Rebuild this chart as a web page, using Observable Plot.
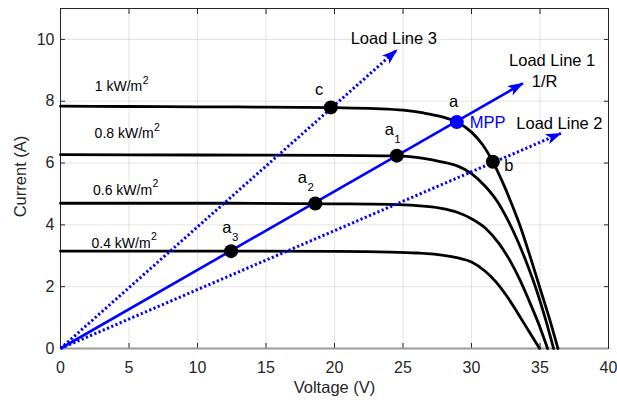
<!DOCTYPE html>
<html>
<head>
<meta charset="utf-8">
<script src="https://cdn.jsdelivr.net/npm/d3@7"></script>
<script src="https://cdn.jsdelivr.net/npm/@observablehq/plot@0.6"></script>
<style>
  body { margin: 0; background: #fff; }
  #chart svg { display: block; }
</style>
</head>
<body>
<div id="chart"></div>
<script>
// ---- Data ----
const xTicks = [0, 5, 10, 15, 20, 25, 30, 35, 40];
const yTicks = [0, 2, 4, 6, 8, 10];

const irradiance = ["1 kW/m", "0.8 kW/m", "0.6 kW/m", "0.4 kW/m"];
const irrLabelV = [2.5, 2.49, 2.37, 2.26];
const irrLabelI = [8.46, 6.94, 5.12, 3.41];

const v1000 = [0, 5, 10, 15, 20, 23, 25, 26.5, 27.8, 28.93, 30, 30.8, 31.56, 32.3, 33, 33.6, 34.3, 35, 35.7, 36.31];
const i1000 = [7.84, 7.83, 7.82, 7.81, 7.79, 7.76, 7.71, 7.62, 7.5, 7.33, 7.0, 6.6, 6.04, 5.35, 4.6, 3.9, 2.95, 1.95, 0.95, 0];
const v800 = [0, 10, 20, 24.55, 26.5, 27.8, 29, 30, 31, 31.85, 32.6, 33.3, 34, 34.7, 35.4, 35.99];
const i800 = [6.27, 6.26, 6.25, 6.23, 6.15, 6.04, 5.9, 5.66, 5.25, 4.78, 4.2, 3.55, 2.8, 1.95, 0.95, 0];
const v600 = [0, 10, 20, 24, 26, 27.7, 29, 30, 31, 32, 32.8, 33.5, 34.2, 34.9, 35.55];
const i600 = [4.70, 4.70, 4.68, 4.66, 4.62, 4.54, 4.4, 4.2, 3.9, 3.4, 2.85, 2.25, 1.55, 0.8, 0];
const v400 = [0, 10, 20, 24, 26, 27.7, 29, 30, 31, 31.8, 32.6, 33.3, 34.2, 34.97];
const i400 = [3.15, 3.15, 3.14, 3.12, 3.09, 3.03, 2.93, 2.8, 2.5, 2.15, 1.68, 1.2, 0.55, 0];

const loadLines = ["Load Line 1", "Load Line 2", "Load Line 3"];
const loadTipV = [33.75, 36.52, 24.55];
const loadTipI = [8.58, 6.96, 9.66];
const loadSolid = [true, false, false];

const loadLabel = ["Load Line 1", "1/R", "Load Line 2", "Load Line 3"];
const loadLabelV = [32.74, 34.4, 33.27, 21.18];
const loadLabelI = [9.32, 8.64, 7.27, 10.02];

const pointName = ["a", "a1", "a2", "a3", "c", "b"];
const pointV = [28.93, 24.55, 18.6, 12.45, 19.73, 31.56];
const pointI = [7.33, 6.24, 4.69, 3.15, 7.80, 6.04];
const pointMPP = [true, false, false, false, false, false];

const ptLabel = ["a", "a", "a", "a", "c", "b"];
const ptLabelSub = ["", "1", "2", "3", "", ""];
const ptLabelV = [28.69, 24.0, 17.66, 12.15, 18.87, 32.73];
const ptLabelI = [8.0, 7.08, 5.51, 3.91, 8.38, 5.9];

const mppText = "MPP";
const mppLabelV = 29.88;
const mppLabelI = 7.32;

// ---- Tables built from the arrays ----
const curveV = [v1000, v800, v600, v400];
const curveI = [i1000, i800, i600, i400];
const curves = irradiance.flatMap((g, k) => curveV[k].map((v, j) => ({g, v, i: curveI[k][j]})));
const irrRows = irradiance.map((t, k) => ({t, v: irrLabelV[k], i: irrLabelI[k], k}));
const loadRows = loadLines.map((n, k) => ({n, v: loadTipV[k], i: loadTipI[k], solid: loadSolid[k]}));
const loadLabelRows = loadLabel.map((t, k) => ({t, v: loadLabelV[k], i: loadLabelI[k]}));
const pointRows = pointName.map((n, k) => ({n, v: pointV[k], i: pointI[k], mpp: pointMPP[k]}));
const ptLabelRows = ptLabel.map((t, k) => ({t, s: ptLabelSub[k], v: ptLabelV[k], i: ptLabelI[k]}));

const BLUE = "#0000ff";
const INK = "#262626";

function arrowHead(color) {
  const ns = "http://www.w3.org/2000/svg";
  const m = document.createElementNS(ns, "marker");
  m.setAttribute("markerUnits", "userSpaceOnUse");
  m.setAttribute("orient", "auto");
  m.setAttribute("overflow", "visible");
  m.setAttribute("markerWidth", "1");
  m.setAttribute("markerHeight", "1");
  const p = document.createElementNS(ns, "path");
  p.setAttribute("d", "M1,0L-15,-5.5L-11,0L-15,5.5Z");
  p.setAttribute("fill", color);
  p.setAttribute("stroke", "none");
  p.setAttribute("stroke-dasharray", "none");
  m.appendChild(p);
  return m;
}

const chart = Plot.plot({
  width: 617,
  height: 403,
  marginLeft: 60,
  marginRight: 9,
  marginTop: 8,
  marginBottom: 55,
  x: {domain: [0, 40]},
  y: {domain: [0, 11]},
  style: {fontFamily: "'Liberation Sans', Arial, Helvetica, sans-serif", fontSize: "16px", color: INK, background: "#fff", overflow: "visible"},
  marks: [
    Plot.gridX(xTicks, {stroke: INK, strokeOpacity: 0.13}),
    Plot.gridY(yTicks, {stroke: INK, strokeOpacity: 0.13}),
    // tick labels
    Plot.axisX(xTicks, {tickSize: 0, tickPadding: 13.5, label: null, fontSize: 16, fill: INK}),
    Plot.axisY(yTicks, {tickSize: 0, tickPadding: 6, label: null, fontSize: 16, fill: INK}),
    // inward ticks on all four sides
    Plot.axisX(xTicks, {anchor: "bottom", tickSize: -5, fill: "none", stroke: INK, label: null}),
    Plot.axisX(xTicks, {anchor: "top", tickSize: -5, fill: "none", stroke: INK, label: null}),
    Plot.axisY(yTicks, {anchor: "left", tickSize: -5, fill: "none", stroke: INK, label: null}),
    Plot.axisY(yTicks, {anchor: "right", tickSize: -5, fill: "none", stroke: INK, label: null}),
    // box
    Plot.ruleX([0, 40], {stroke: INK, strokeWidth: 1}),
    Plot.ruleY([11], {stroke: INK, strokeWidth: 1}),
    Plot.ruleY([0], {stroke: "#9a9a9a", strokeWidth: 2}),
    // axis titles
    Plot.text(["Voltage (V)"], {frameAnchor: "bottom", textAnchor: "middle", lineAnchor: "middle", dy: 39, fontSize: 16.5, fill: INK}),
    Plot.text(["Current (A)"], {frameAnchor: "left", textAnchor: "middle", lineAnchor: "middle", dx: -40, dy: -2, rotate: -90, fontSize: 16.5, fill: INK}),
    // I-V curves
    Plot.line(curves, {x: "v", y: "i", z: "g", stroke: "#000", strokeWidth: 2.8, curve: "monotone-x"}),
    // load lines
    Plot.link(loadRows.filter(d => d.solid), {x1: () => 0, y1: () => 0, x2: "v", y2: "i", stroke: BLUE, strokeWidth: 2.6, markerEnd: arrowHead}),
    Plot.link(loadRows.filter(d => !d.solid), {x1: () => 0, y1: () => 0, x2: "v", y2: "i", stroke: BLUE, strokeWidth: 3, strokeDasharray: "2.2,2.4", markerEnd: arrowHead}),
    // operating points
    Plot.dot(pointRows.filter(d => !d.mpp), {x: "v", y: "i", r: 7, fill: "#000", stroke: "none"}),
    Plot.dot(pointRows.filter(d => d.mpp), {x: "v", y: "i", r: 7, fill: BLUE, stroke: "none"}),
    // irradiance labels
    Plot.text(irrRows, {x: "v", y: "i", text: "t", textAnchor: "start", fontSize: 14, fill: "#000"}),
    Plot.text(irrRows.filter(d => d.k === 0), {x: "v", y: "i", text: () => "2", textAnchor: "start", fontSize: 10.5, dx: 48, dy: -6.5, fill: "#000"}),
    Plot.text(irrRows.filter(d => d.k > 0), {x: "v", y: "i", text: () => "2", textAnchor: "start", fontSize: 10.5, dx: 59.5, dy: -6.5, fill: "#000"}),
    // point labels
    Plot.text(ptLabelRows, {x: "v", y: "i", text: "t", textAnchor: "middle", fontSize: 16.5, fill: "#000"}),
    Plot.text(ptLabelRows.filter(d => d.s), {x: "v", y: "i", text: "s", textAnchor: "start", fontSize: 11.5, dx: 5, dy: 9.5, fill: "#000"}),
    Plot.text([mppText], {x: () => mppLabelV, y: () => mppLabelI, text: d => d, textAnchor: "start", fontSize: 16.5, fill: BLUE}),
    // load line labels
    Plot.text(loadLabelRows, {x: "v", y: "i", text: "t", textAnchor: "start", fontSize: 16.5, fill: "#000"})
  ]
});
document.getElementById("chart").appendChild(chart);
</script>
</body>
</html>
